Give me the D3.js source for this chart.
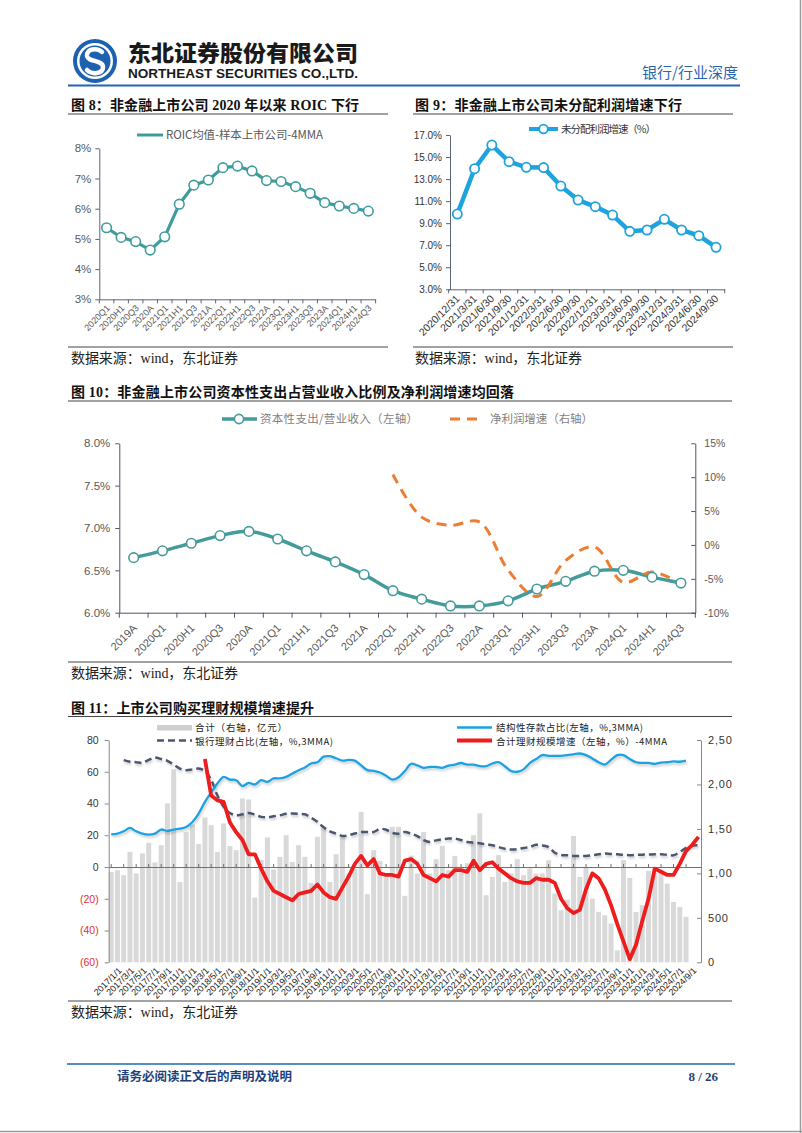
<!DOCTYPE html>
<html><head><meta charset="utf-8">
<script src="https://cdn.jsdelivr.net/npm/d3@7/dist/d3.min.js"></script>
<style>html,body{margin:0;padding:0;background:#fff;}svg{display:block;}</style>
</head><body>
<script>
// ---------------- DATA ----------------
const roicCats = ["2020Q1","2020H1","2020Q3","2020A","2021Q1","2021H1","2021Q3","2021A","2022Q1","2022H1","2022Q3","2022A","2023Q1","2023H1","2023Q3","2023A","2024Q1","2024H1","2024Q3"];
const roicVals = [5.37,5.05,4.91,4.63,5.07,6.15,6.78,6.95,7.36,7.41,7.25,6.93,6.90,6.73,6.51,6.20,6.09,6.01,5.92];
const roicTicks = [3,4,5,6,7,8];

const upCats = ["2020/12/31","2021/3/31","2021/6/30","2021/9/30","2021/12/31","2022/3/31","2022/6/30","2022/9/30","2022/12/31","2023/3/31","2023/6/30","2023/9/30","2023/12/31","2024/3/31","2024/6/30","2024/9/30"];
const upVals = [9.83,13.94,16.09,14.58,14.07,14.04,12.37,11.10,10.50,9.74,8.26,8.38,9.35,8.38,7.87,6.81];
const upTicks = [3,5,7,9,11,13,15,17];

const capCats = ["2019A","2020Q1","2020H1","2020Q3","2020A","2021Q1","2021H1","2021Q3","2021A","2022Q1","2022H1","2022Q3","2022A","2023Q1","2023H1","2023Q3","2023A","2024Q1","2024H1","2024Q3"];
const capexVals = [6.65,6.73,6.82,6.91,6.96,6.87,6.73,6.60,6.45,6.26,6.16,6.08,6.08,6.14,6.28,6.37,6.49,6.50,6.42,6.35];
const profitVals = [null,null,null,null,null,null,null,null,null,10.4,4.1,2.9,3.4,-3.7,-7.6,-2.3,-0.3,-5.5,-4.0,-5.7];
const capLeftTicks = [6,6.5,7,7.5,8];
const capRightTicks = [-10,-5,0,5,10,15];

const monthCats = [];
for (let y = 2017; y <= 2024; y++) for (let m = 1; m <= 12; m++) { if (y === 2024 && m > 11) break; monthCats.push(y + "/" + m + "/1"); }
const monthTickLabels = ["2017/1/1","2017/3/1","2017/5/1","2017/7/1","2017/9/1","2017/11/1","2018/1/1","2018/3/1","2018/5/1","2018/7/1","2018/9/1","2018/11/1","2019/1/1","2019/3/1","2019/5/1","2019/7/1","2019/9/1","2019/11/1","2020/1/1","2020/3/1","2020/5/1","2020/7/1","2020/9/1","2020/11/1","2021/1/1","2021/3/1","2021/5/1","2021/7/1","2021/9/1","2021/11/1","2022/1/1","2022/3/1","2022/5/1","2022/7/1","2022/9/1","2022/11/1","2023/1/1","2023/3/1","2023/5/1","2023/7/1","2023/9/1","2023/11/1","2024/1/1","2024/3/1","2024/5/1","2024/7/1","2024/9/1"];
const totalBars = [1017,1036,980,1242,1000,1224,1343,1122,1317,1787,
 2170,904,1467,1550,1329,1629,1543,1242,1562,1306,
 1261,1843,1832,728,1150,1404,1044,1186,1430,1129,
 1317,1186,893,1411,1505,904,1216,1419,1000,1050,
 1692,766,1261,1141,1000,1524,1524,747,1200,1000,
 1467,1000,1160,1310,1036,1197,1050,1114,1430,1674,
 754,960,1205,904,1000,1160,980,1055,998,1000,
 1148,773,585,706,1420,960,1073,717,566,529,
 436,135,1150,949,566,642,1028,1010,1044,886,
 679,623,510];
const structDeposit = [20.6,21,22.5,24.6,22.5,21,20.4,21,23.6,22.7,
 23.6,24.2,25.2,28.4,33.7,41,47,52.6,56.8,55.1,
 54.7,51,53,52,54.7,53.6,55.8,55.8,56.8,58.9,
 61,62.7,65.2,66,69.5,69.8,68.5,67,67.5,67,
 64,61,60.6,59.5,57.5,55,56.5,60.5,65,64,
 62.5,63,63,62.5,63.8,64.5,65.5,64.5,64.5,63.5,
 63.5,65.2,66,63.5,60.5,60,61.5,65.5,68,70.5,
 70,70,70,70.5,71,71.5,70.5,68.4,66,64.5,
 67.5,70.5,70.5,68,66,65.6,65.6,65,65.8,66,
 66.5,66.3,67];
const bankWM = [null,null,67.3,66.3,66,65.6,67.5,69,68,66.9,
 64.5,62,61,61.5,62,60.4,55,45,38,34,
 32.6,33.2,34,33,31.6,31.3,32,32.6,33.5,33.7,
 33.5,33.2,31,28.5,25,22.5,21,19.6,20,21.1,
 22,22.1,22.1,24,23.5,21.5,21,22,21,19.5,
 17,15.8,16.8,17.5,17.9,17.9,17,15.8,15.3,15,
 14.2,13.7,12.5,11.5,11,11.2,12,12.6,14,13.5,
 12.6,9,7.6,7.4,7,6.9,7,7.4,8,8.5,
 8.2,8,7.7,7.4,7.6,7.8,7.9,8,8,7.7,
 7.4,9.5,12,13.5,13.7];
const wmGrowth = [null,null,null,null,null,null,null,null,null,null,
 null,null,null,null,null,68,45,42,41,28,
 22,17,8,8,-1,-9,-15,-17,-19,-21,
 -17,-16,-15,-11,-16,-19,-20,-13,-6,2,
 7,1,5,-4,-5,-5,-6,4,5,2,
 -5,-7,-9,-5,-6,-2,-2,-3,4,-2,
 2,3,-1,-4,-7,-9,-10,-10,-7,-8,
 -8,-10,-20,-26,-29,-27,-14,-4,-7,-14,
 -24,-36,-47,-58,-49,-34,-20,-1,-3,-5,
 -5,2,10,14,19];
const leftTicks11 = [-60,-40,-20,0,20,40,60,80];
const rightTicks11 = [0,500,1000,1500,2000,2500];

// ---------------- SETUP ----------------
const CN = '"Noto Sans CJK SC","Noto Sans",sans-serif';
const SERIF = '"Liberation Serif","Noto Sans CJK SC",serif';
const SANS = '"Liberation Sans","Noto Sans CJK SC",sans-serif';
const svg = d3.select("body").append("svg").attr("width", 802).attr("height", 1133);
svg.append("rect").attr("width", 802).attr("height", 1133).attr("fill", "#fff");
const defs = svg.append("defs");
const flt = defs.append("filter").attr("id", "sh").attr("x", "-5%").attr("y", "-30%").attr("width", "110%").attr("height", "160%");
flt.append("feDropShadow").attr("dx", 1).attr("dy", 2).attr("stdDeviation", 1.2).attr("flood-color", "#000").attr("flood-opacity", 0.2);
defs.append("clipPath").attr("id", "clipR").append("rect").attr("x", -20).attr("y", 0).attr("width", 51).attr("height", 1133);

function styleAxis(sel, color, fs, tc, fam) {
  sel.attr("font-family", fam || SANS);
  sel.select(".domain").attr("stroke", color).attr("stroke-width", 1);
  sel.selectAll(".tick line").attr("stroke", color);
  sel.selectAll(".tick text").attr("fill", tc).attr("font-size", fs).attr("font-family", fam || SANS);
}
function rotateLabels(sel, ox, oy) {
  sel.selectAll(".tick text").attr("text-anchor", "end").attr("x", 0).attr("y", 0).attr("dy", null)
    .attr("transform", "translate(" + ox + "," + oy + ") rotate(-45)");
}
function caption(x, y, txt, len, rx1, rx2, ry) {
  svg.append("text").attr("x", x).attr("y", y).attr("font-family", SERIF).attr("font-weight", 700)
    .attr("font-size", 14).attr("fill", "#111").attr("textLength", len).attr("lengthAdjust", "spacing").text(txt);
  svg.append("line").attr("x1", rx1).attr("x2", rx2).attr("y1", ry).attr("y2", ry).attr("stroke", "#444").attr("stroke-width", 1);
}
function source(x, y, rx1, rx2, ry) {
  svg.append("line").attr("x1", rx1).attr("x2", rx2).attr("y1", ry).attr("y2", ry).attr("stroke", "#444").attr("stroke-width", 1);
  svg.append("text").attr("x", x).attr("y", y).attr("font-family", SERIF).attr("font-size", 14).attr("fill", "#222")
    .attr("textLength", 167).attr("lengthAdjust", "spacing").text("数据来源：wind，东北证券");
}
function legText(x, y, txt, len, fs, col) {
  svg.append("text").attr("x", x).attr("y", y).attr("font-family", CN).attr("font-size", fs).attr("fill", col)
    .attr("textLength", len).attr("lengthAdjust", "spacing").text(txt);
}

// ---------------- HEADER ----------------
svg.append("circle").attr("cx", 95).attr("cy", 61).attr("r", 22).attr("fill", "#1c62b0");
svg.append("circle").attr("cx", 95).attr("cy", 61).attr("r", 18).attr("fill", "#fff");
svg.append("circle").attr("cx", 95).attr("cy", 61).attr("r", 15.5).attr("fill", "#1c62b0");
svg.append("path").attr("d", "M102,52 C97,47 86,49 87,56 C88,62 103,60 103,67 C103,74 92,75 87,70")
  .attr("stroke", "#fff").attr("stroke-width", 4.5).attr("fill", "none").attr("stroke-linecap", "round");
svg.append("text").attr("x", 128).attr("y", 61).attr("font-family", CN).attr("font-weight", 900).attr("font-size", 22)
  .attr("fill", "#1a1a1a").attr("textLength", 230).attr("lengthAdjust", "spacingAndGlyphs").text("东北证券股份有限公司");
svg.append("text").attr("x", 128).attr("y", 78).attr("font-family", SANS).attr("font-weight", 700).attr("font-size", 12)
  .attr("fill", "#1a1a1a").attr("textLength", 230).attr("lengthAdjust", "spacingAndGlyphs").text("NORTHEAST SECURITIES CO.,LTD.");
svg.append("text").attr("x", 738).attr("y", 78).attr("text-anchor", "end").attr("font-family", CN).attr("font-size", 15)
  .attr("fill", "#2a66b0").text("银行/行业深度");
svg.append("line").attr("x1", 68).attr("x2", 740).attr("y1", 85.5).attr("y2", 85.5).attr("stroke", "#1f66b5").attr("stroke-width", 1.8);

// ---------------- CHART 8 ----------------
caption(71, 110, "图 8：非金融上市公司 2020 年以来 ROIC 下行", 288, 68, 388, 114);
const teal = "#3f9c9c";
svg.append("line").attr("x1", 137).attr("x2", 163).attr("y1", 135).attr("y2", 135).attr("stroke", teal).attr("stroke-width", 3);
legText(166, 139, "ROIC均值-样本上市公司-4MMA", 157, 11.5, "#595959");
const x8 = d3.scaleBand().domain(roicCats).range([99.3, 375.6]);
const y8 = d3.scaleLinear().domain([3, 8]).range([299.3, 148.3]);
const ax8y = svg.append("g").attr("transform", "translate(99.3,0)")
  .call(d3.axisLeft(y8).tickValues(roicTicks).tickFormat(d => d + "%").tickSize(4).tickSizeOuter(0).tickPadding(4));
styleAxis(ax8y, "#5a6478", 11.5, "#595959");
const ax8x = svg.append("g").attr("transform", "translate(0,299.3)").call(d3.axisBottom(x8).tickSize(0).tickSizeOuter(0));
styleAxis(ax8x, "#5a6478", 9, "#595959");
rotateLabels(ax8x, 4, 9.5);
svg.append("g").selectAll("line").data(roicCats.map(c => x8(c)).concat([x8(roicCats[roicCats.length - 1]) + x8.bandwidth()]))
  .join("line").attr("x1", d => d).attr("x2", d => d).attr("y1", 299.3).attr("y2", 303.3).attr("stroke", "#5a6478");
svg.append("path").datum(roicVals).attr("fill", "none").attr("stroke", teal).attr("stroke-width", 3.2)
  .attr("d", d3.line().x((d, i) => x8(roicCats[i]) + x8.bandwidth() / 2).y(d => y8(d)));
svg.append("g").selectAll("circle").data(roicVals).join("circle")
  .attr("cx", (d, i) => x8(roicCats[i]) + x8.bandwidth() / 2).attr("cy", d => y8(d)).attr("r", 4.8)
  .attr("fill", "#fff").attr("stroke", teal).attr("stroke-width", 1.6);
source(71, 363, 68, 388, 347);

// ---------------- CHART 9 ----------------
caption(415, 110, "图 9：非金融上市公司未分配利润增速下行", 267, 413, 733, 114);
const blue9 = "#1fa3dd";
svg.append("line").attr("x1", 529).attr("x2", 558).attr("y1", 129).attr("y2", 129).attr("stroke", blue9).attr("stroke-width", 4);
svg.append("circle").attr("cx", 543.5).attr("cy", 129).attr("r", 4.3).attr("fill", "#fff").attr("stroke", blue9).attr("stroke-width", 1.8);
legText(561, 133, "未分配利润增速（%）", 95, 10.5, "#333");
const x9 = d3.scaleBand().domain(upCats).range([448.7, 724.7]);
const y9 = d3.scaleLinear().domain([3, 17]).range([289.3, 135]);
const ax9y = svg.append("g").attr("transform", "translate(450,0)")
  .call(d3.axisLeft(y9).tickValues(upTicks).tickFormat(d => d3.format(".1f")(d) + "%").tickSize(4).tickSizeOuter(0).tickPadding(4));
styleAxis(ax9y, "#5a6478", 10, "#333");
const ax9x = svg.append("g").attr("transform", "translate(0,289.3)").call(d3.axisBottom(x9).tickSize(0).tickSizeOuter(0));
styleAxis(ax9x, "#5a6478", 10.5, "#333");
rotateLabels(ax9x, 3, 10);
svg.append("g").selectAll("line").data(upCats.map(c => x9(c)).concat([x9(upCats[upCats.length - 1]) + x9.bandwidth()]))
  .join("line").attr("x1", d => d).attr("x2", d => d).attr("y1", 289.3).attr("y2", 293.3).attr("stroke", "#5a6478");
svg.append("path").datum(upVals).attr("fill", "none").attr("stroke", blue9).attr("stroke-width", 4.5).attr("stroke-linejoin", "round")
  .attr("d", d3.line().x((d, i) => x9(upCats[i]) + x9.bandwidth() / 2).y(d => y9(d)));
svg.append("g").selectAll("circle").data(upVals).join("circle")
  .attr("cx", (d, i) => x9(upCats[i]) + x9.bandwidth() / 2).attr("cy", d => y9(d)).attr("r", 4.6)
  .attr("fill", "#fff").attr("stroke", blue9).attr("stroke-width", 1.8);
source(415, 363, 413, 733, 347);

// ---------------- CHART 10 ----------------
caption(71, 397, "图 10：非金融上市公司资本性支出占营业收入比例及净利润增速均回落", 443, 68, 732, 401);
const teal10 = "#459b9b", orange = "#ed7d31";
svg.append("line").attr("x1", 222).attr("x2", 257).attr("y1", 419).attr("y2", 419).attr("stroke", teal10).attr("stroke-width", 3.5);
svg.append("circle").attr("cx", 239).attr("cy", 419).attr("r", 4.6).attr("fill", "#fff").attr("stroke", teal10).attr("stroke-width", 1.6);
legText(260, 423, "资本性支出/营业收入（左轴）", 158, 11.5, "#7f7f7f");
svg.append("line").attr("x1", 450).attr("x2", 484).attr("y1", 419).attr("y2", 419).attr("stroke", orange).attr("stroke-width", 3).attr("stroke-dasharray", "10,7");
legText(490, 423, "净利润增速（右轴）", 103, 11.5, "#7f7f7f");
const x10 = d3.scaleBand().domain(capCats).range([119.3, 695.3]);
const y10L = d3.scaleLinear().domain([6, 8]).range([612.7, 443.3]);
const y10R = d3.scaleLinear().domain([-10, 15]).range([612.7, 443.3]);
const ax10l = svg.append("g").attr("transform", "translate(119.3,0)")
  .call(d3.axisLeft(y10L).tickValues(capLeftTicks).tickFormat(d => d3.format(".1f")(d) + "%").tickSize(4).tickSizeOuter(0).tickPadding(5));
styleAxis(ax10l, "#4a5568", 11.5, "#595959");
const ax10r = svg.append("g").attr("transform", "translate(695.3,0)")
  .call(d3.axisRight(y10R).tickValues(capRightTicks).tickFormat(d => d + "%").tickSize(-4).tickSizeOuter(0).tickPadding(9));
styleAxis(ax10r, "#4a5568", 10.5, "#595959");
const ax10x = svg.append("g").attr("transform", "translate(0,612.7)").call(d3.axisBottom(x10).tickSize(0).tickSizeOuter(0));
styleAxis(ax10x, "#4a5568", 11, "#595959");
rotateLabels(ax10x, 4, 16);
svg.append("g").selectAll("line").data(capCats.map(c => x10(c)).concat([x10(capCats[capCats.length - 1]) + x10.bandwidth()]))
  .join("line").attr("x1", d => d).attr("x2", d => d).attr("y1", 612.7).attr("y2", 617.7).attr("stroke", "#4a5568");
const cx10 = (i) => x10(capCats[i]) + x10.bandwidth() / 2;
svg.append("path").datum(capexVals).attr("fill", "none").attr("stroke", teal10).attr("stroke-width", 3.5)
  .attr("d", d3.line().curve(d3.curveCatmullRom.alpha(0.5)).x((d, i) => cx10(i)).y(d => y10L(d)));
svg.append("path").datum(profitVals).attr("fill", "none").attr("stroke", orange).attr("stroke-width", 3).attr("stroke-dasharray", "10,7")
  .attr("d", d3.line().defined(d => d != null).curve(d3.curveCatmullRom.alpha(0.5)).x((d, i) => cx10(i)).y(d => y10R(d)));
svg.append("g").selectAll("circle").data(capexVals).join("circle")
  .attr("cx", (d, i) => cx10(i)).attr("cy", d => y10L(d)).attr("r", 4.8)
  .attr("fill", "#fff").attr("stroke", teal10).attr("stroke-width", 1.6);
source(71, 678, 68, 732, 662);

// ---------------- CHART 11 ----------------
caption(71, 712.5, "图 11：上市公司购买理财规模增速提升", 243, 68, 732, 716.5);
const blue11 = "#1ba1e2", red11 = "#ee1c1c", dash11 = "#4c5670", barCol = "#d9d9d9";
svg.append("rect").attr("x", 157).attr("y", 725).attr("width", 35).attr("height", 5.5).attr("fill", "#cfcfcf");
legText(195, 731, "合计（右轴，亿元）", 92, 9.5, "#222");
svg.append("line").attr("x1", 157).attr("x2", 192).attr("y1", 740.5).attr("y2", 740.5).attr("stroke", dash11).attr("stroke-width", 2.5).attr("stroke-dasharray", "7,4");
legText(195, 744.5, "银行理财占比(左轴，%,3MMA)", 138, 9.5, "#222");
svg.append("line").attr("x1", 457).attr("x2", 492).attr("y1", 727.5).attr("y2", 727.5).attr("stroke", blue11).attr("stroke-width", 2.5);
legText(496, 731, "结构性存款占比(左轴，%,3MMA)", 147, 9.5, "#222");
svg.append("line").attr("x1", 457).attr("x2", 492).attr("y1", 740.5).attr("y2", 740.5).attr("stroke", red11).attr("stroke-width", 4);
legText(496, 744.5, "合计理财规模增速（左轴，%）-4MMA", 171, 9.5, "#222");

const x11 = d3.scaleBand().domain(monthCats).range([108.7, 701]).paddingInner(0.2);
const cx11 = (i) => x11(monthCats[i]) + x11.bandwidth() / 2;
const y11L = d3.scaleLinear().domain([-60, 80]).range([962.3, 740]);
const y11R = d3.scaleLinear().domain([0, 2500]).range([962.3, 740]);
svg.append("g").selectAll("rect").data(totalBars).join("rect")
  .attr("x", (d, i) => x11(monthCats[i])).attr("width", x11.bandwidth())
  .attr("y", d => y11R(d)).attr("height", d => y11R(0) - y11R(d)).attr("fill", barCol);
const ax11l = svg.append("g").attr("transform", "translate(108.7,0)")
  .call(d3.axisLeft(y11L).tickValues(leftTicks11).tickFormat(d => d < 0 ? "(" + (-d) + ")" : d).tickSize(4).tickSizeOuter(0).tickPadding(6));
styleAxis(ax11l, "#888", 10.5, "#333");
ax11l.selectAll(".tick text").attr("fill", d => d < 0 ? "#e0332f" : "#333");
const ax11r = svg.append("g").attr("transform", "translate(701,0)").attr("clip-path", "url(#clipR)")
  .call(d3.axisRight(y11R).tickValues(rightTicks11).tickFormat(d3.format(",")).tickSize(-4).tickSizeOuter(0).tickPadding(7));
styleAxis(ax11r, "#888", 11, "#333");
ax11r.selectAll(".tick text").attr("letter-spacing", 0.8);
const ax11zero = svg.append("g").attr("transform", "translate(0," + y11L(0) + ")")
  .call(d3.axisBottom(x11).tickValues(monthTickLabels).tickSize(-3).tickSizeOuter(0).tickFormat(""));
styleAxis(ax11zero, "#6f6f6f", 9, "#333");
const ax11x = svg.append("g").attr("transform", "translate(0,962.3)")
  .call(d3.axisBottom(x11).tickValues(monthTickLabels).tickSize(0).tickSizeOuter(0));
ax11x.select(".domain").remove();
styleAxis(ax11x, "#888", 9, "#222");
rotateLabels(ax11x, 11, 9);
svg.append("path").datum(bankWM).attr("fill", "none").attr("stroke", dash11).attr("stroke-width", 2.5).attr("stroke-dasharray", "7,4")
  .attr("filter", "url(#sh)")
  .attr("d", d3.line().defined(d => d != null).curve(d3.curveCatmullRom.alpha(0.5)).x((d, i) => cx11(i)).y(d => y11L(d)));
svg.append("path").datum(structDeposit).attr("fill", "none").attr("stroke", blue11).attr("stroke-width", 2.3)
  .attr("filter", "url(#sh)")
  .attr("d", d3.line().curve(d3.curveCatmullRom.alpha(0.5)).x((d, i) => cx11(i)).y(d => y11L(d)));
svg.append("path").datum(wmGrowth).attr("fill", "none").attr("stroke", red11).attr("stroke-width", 3.8).attr("stroke-linejoin", "round")
  .attr("d", d3.line().defined(d => d != null).x((d, i) => cx11(i)).y(d => y11L(d)));
source(71, 1017, 68, 732, 1001);

// ---------------- FOOTER ----------------
svg.append("line").attr("x1", 67).attr("x2", 735).attr("y1", 1064).attr("y2", 1064).attr("stroke", "#1f66b5").attr("stroke-width", 1.6);
svg.append("text").attr("x", 117).attr("y", 1081).attr("font-family", CN).attr("font-weight", 700).attr("font-size", 12.5)
  .attr("fill", "#1f3f7a").text("请务必阅读正文后的声明及说明");
svg.append("text").attr("x", 718).attr("y", 1081).attr("text-anchor", "end").attr("font-family", SERIF).attr("font-weight", 700)
  .attr("font-size", 13).attr("fill", "#1f3f7a").text("8 / 26");
svg.append("line").attr("x1", 800.5).attr("x2", 800.5).attr("y1", 0).attr("y2", 1133).attr("stroke", "#9a9a9a").attr("stroke-width", 1.5);
svg.append("line").attr("x1", 0).attr("x2", 802).attr("y1", 1131.5).attr("y2", 1131.5).attr("stroke", "#9a9a9a").attr("stroke-width", 1.5);
</script>
</body></html>
